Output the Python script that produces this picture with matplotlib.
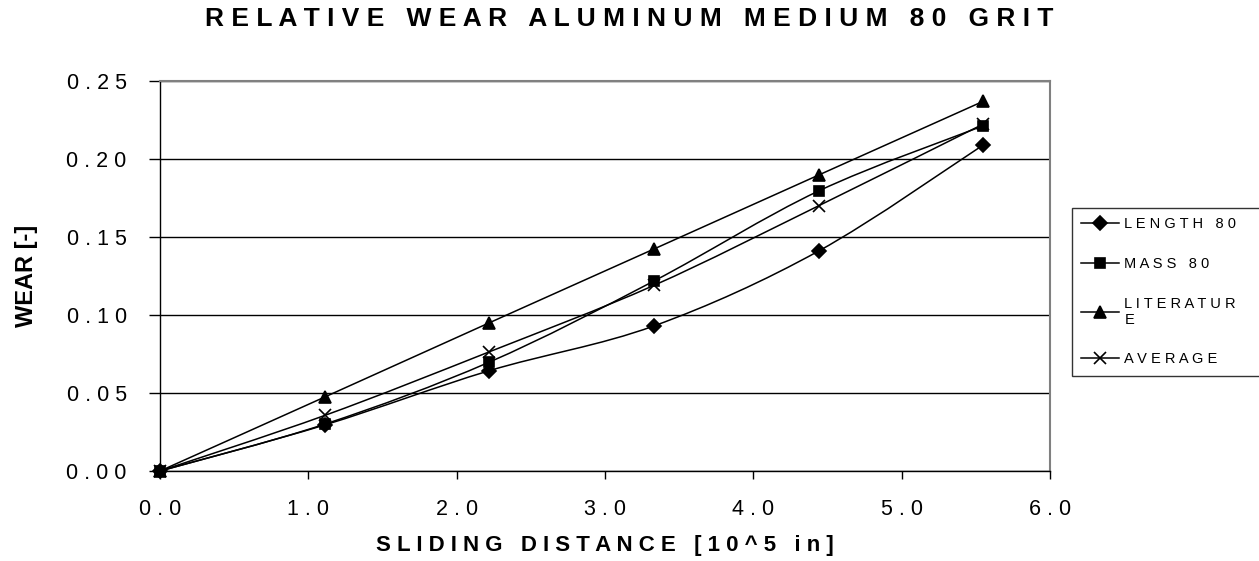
import matplotlib.pyplot as plt
import numpy as np
from matplotlib.path import Path
from matplotlib.patches import PathPatch
from matplotlib.lines import Line2D

plt.rcParams["font.family"] = ["Liberation Sans", "DejaVu Sans"]

# sliding distance [10^5 in]
distance = [0.0, 1.11, 2.22, 3.33, 4.44, 5.55]

length_80 = [0.0, 0.0295, 0.0643, 0.0930, 0.1410, 0.2090]
mass_80 = [0.0, 0.0300, 0.0698, 0.1218, 0.1795, 0.2213]
literature = [0.0, 0.0474, 0.0950, 0.1423, 0.1897, 0.2370]
average = [0.0, 0.0356, 0.0764, 0.1190, 0.1700, 0.2224]

series = [
    ("LENGTH 80", length_80, "D", 7),
    ("MASS 80", mass_80, "s", 7.5),
    ("LITERATUR\nE", literature, "^", 8.5),
    ("AVERAGE", average, "x", 8),
]

x_ticks = [0.0, 1.0, 2.0, 3.0, 4.0, 5.0, 6.0]
y_ticks = [0.00, 0.05, 0.10, 0.15, 0.20, 0.25]


def spaced(s):
    # spread the letters out like the original spreadsheet text
    return "\n".join(" ".join(line) for line in s.split("\n"))


def smooth_path(xs, ys):
    # cubic bezier segments through every point (spreadsheet "smoothed line")
    p = np.column_stack([xs, ys])
    n = len(p)
    verts = [p[0]]
    codes = [Path.MOVETO]
    for i in range(n - 1):
        prev = p[i - 1] if i > 0 else p[i]
        nxt = p[i + 2] if i + 2 < n else p[i + 1]
        c1 = p[i] + (p[i + 1] - prev) / 6.0
        c2 = p[i + 1] - (nxt - p[i]) / 6.0
        verts += [c1, c2, p[i + 1]]
        codes += [Path.CURVE4] * 3
    return Path(verts, codes)


fig = plt.figure(figsize=(12.59, 5.61), dpi=100)
ax = fig.add_axes([160 / 1259, 1 - 471 / 561, 890 / 1259, 390 / 561])

handles = []
for name, vals, mk, ms in series:
    ax.add_patch(PathPatch(smooth_path(distance, vals), fill=False,
                           edgecolor="black", lw=1.1, zorder=3))
    ax.plot(distance, vals, ls="none", marker=mk, ms=ms, color="black",
            mew=1.2, zorder=4, clip_on=False)
    handles.append(Line2D([], [], color="black", lw=1.1, marker=mk,
                          ms=ms, mew=1.2, label=spaced(name)))

ax.set_xlim(0, 6)
ax.set_ylim(0, 0.25)
ax.set_xticks(x_ticks)
ax.set_yticks(y_ticks)
ax.set_xticklabels([spaced(f"{v:.1f}") for v in x_ticks], fontsize=15.5)
ax.set_yticklabels([spaced(f"{v:.2f}") for v in y_ticks], fontsize=15.5)
ax.tick_params(axis="x", direction="out", length=6, width=1, pad=14)
ax.tick_params(axis="y", direction="out", length=8, width=1, pad=16)

ax.yaxis.grid(True, color="black", lw=1)
ax.set_axisbelow(True)
for side in ("top", "right"):
    ax.spines[side].set_color("#808080")
    ax.spines[side].set_linewidth(1.5)
for side in ("left", "bottom"):
    ax.spines[side].set_color("black")
    ax.spines[side].set_linewidth(1)

ax.set_xlabel(spaced("SLIDING DISTANCE [10^5 in]"), fontsize=16,
              fontweight="bold", va="center")
ax.xaxis.set_label_coords(0.5, (471 - 545) / 390)
ax.set_ylabel("WEAR [-]", fontsize=17, fontweight="bold", va="center")
ax.yaxis.set_label_coords((27 - 160) / 890, 0.5)
fig.text(0.5, 1 - 19 / 561, spaced("RELATIVE WEAR ALUMINUM MEDIUM 80 GRIT"),
         ha="center", va="center", fontsize=19, fontweight="bold")

leg = fig.legend(handles=handles, loc="upper left",
                 bbox_to_anchor=(1072 / 1259, 0, 200 / 1259, 1 - 208 / 561),
                 mode="expand", fontsize=10.5, frameon=True, fancybox=False,
                 handlelength=2.6, handletextpad=0.35, labelspacing=1.75,
                 borderaxespad=0, borderpad=0.65)
leg.get_frame().set_edgecolor("black")
leg.get_frame().set_linewidth(1)

fig.savefig("out.png", dpi=100)
